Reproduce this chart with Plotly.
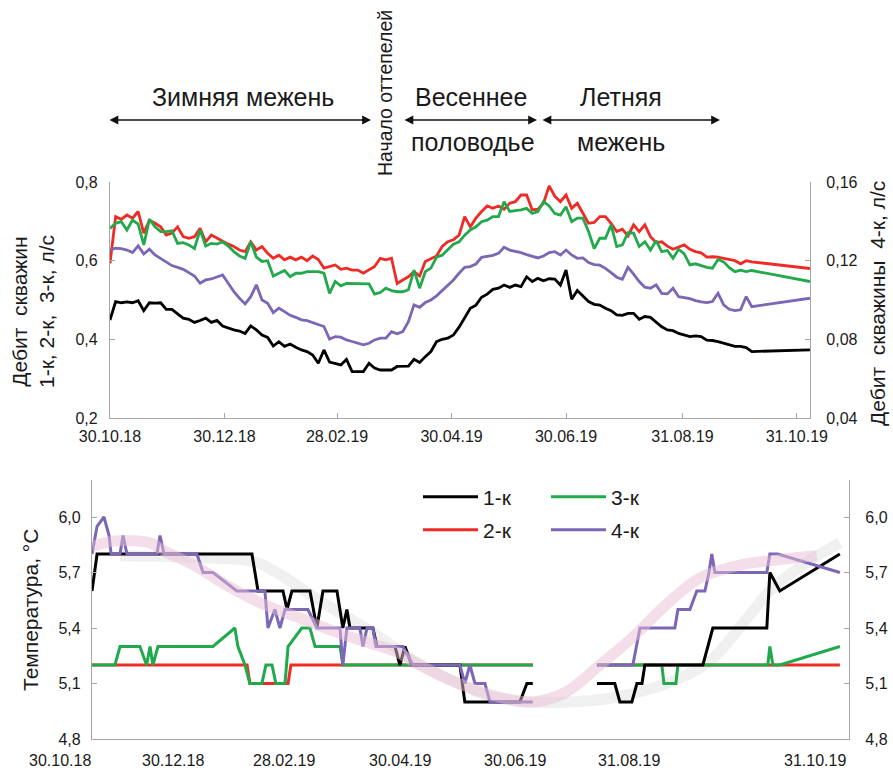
import plotly.graph_objects as go
import pandas as pd

# ---------------- DATA ----------------
START = "2018-10-30"
END_DAY = 373

# Top chart: common day grid (days after 30.10.18)
top_days = list(range(0, 154, 3)) + list(range(156, 343, 3)) + [373]

q_2k = [0.593, 0.712, 0.705, 0.716, 0.708, 0.725, 0.670, 0.703, 0.695, 0.686,
        0.665, 0.670, 0.686, 0.661, 0.657, 0.661, 0.682, 0.648, 0.665, 0.657,
        0.648, 0.642, 0.636, 0.627, 0.623, 0.648, 0.627, 0.636, 0.619, 0.606,
        0.614, 0.602, 0.609, 0.602, 0.609, 0.600, 0.612, 0.603, 0.581, 0.585,
        0.589, 0.578, 0.581, 0.576, 0.576, 0.568, 0.576, 0.585, 0.606, 0.602,
        0.606, 0.542,
        0.551, 0.559, 0.572, 0.561, 0.598, 0.606, 0.612, 0.636, 0.648, 0.653,
        0.665, 0.712, 0.686, 0.708, 0.725, 0.739, 0.733, 0.739, 0.731, 0.746,
        0.750, 0.767, 0.767, 0.729, 0.731, 0.746, 0.790, 0.764, 0.750, 0.767,
        0.733, 0.746, 0.720, 0.695, 0.697, 0.712, 0.712, 0.695, 0.674, 0.680,
        0.663, 0.691, 0.674, 0.691, 0.661, 0.646, 0.648, 0.637, 0.629, 0.634,
        0.640, 0.629, 0.623, 0.620, 0.609, 0.610, 0.609, 0.606, 0.603, 0.600,
        0.592, 0.600, 0.597,
        0.580]

q_3k = [0.682, 0.695, 0.699, 0.678, 0.703, 0.693, 0.640, 0.705, 0.686, 0.674,
        0.674, 0.676, 0.644, 0.646, 0.640, 0.631, 0.678, 0.637, 0.644, 0.642,
        0.648, 0.637, 0.623, 0.612, 0.606, 0.648, 0.609, 0.598, 0.600, 0.561,
        0.568, 0.575, 0.559, 0.568, 0.568, 0.572, 0.572, 0.572, 0.568, 0.517,
        0.547, 0.536, 0.542, 0.542, 0.541, 0.542, 0.541, 0.515, 0.519, 0.530,
        0.524, 0.521,
        0.521, 0.526, 0.576, 0.530, 0.572, 0.581, 0.609, 0.614, 0.629, 0.642,
        0.648, 0.665, 0.678, 0.686, 0.699, 0.703, 0.712, 0.712, 0.750, 0.725,
        0.727, 0.729, 0.733, 0.720, 0.725, 0.750, 0.739, 0.720, 0.716, 0.737,
        0.699, 0.708, 0.708, 0.674, 0.631, 0.657, 0.657, 0.691, 0.636, 0.640,
        0.671, 0.670, 0.636, 0.648, 0.627, 0.651, 0.623, 0.626, 0.606, 0.629,
        0.617, 0.589, 0.592, 0.588, 0.583, 0.581, 0.603, 0.597, 0.582, 0.572,
        0.576, 0.572, 0.575,
        0.547]

q_4k = [0.1254, 0.1263, 0.1261, 0.1254, 0.1241, 0.1275, 0.1234, 0.1258, 0.1229, 0.1212,
        0.1192, 0.1175, 0.1166, 0.1156, 0.1139, 0.1122, 0.1085, 0.1102, 0.1107, 0.1116,
        0.1127, 0.1085, 0.1043, 0.1009, 0.0980, 0.1017, 0.1077, 0.1000, 0.0983, 0.0936,
        0.0958, 0.0941, 0.0922, 0.0912, 0.0899, 0.0895, 0.0885, 0.0873, 0.0865, 0.0801,
        0.0814, 0.0811, 0.0797, 0.0789, 0.0780, 0.0772, 0.0780, 0.0797, 0.0806, 0.0806,
        0.0839, 0.0828,
        0.0839, 0.0890, 0.0975, 0.0963, 0.0987, 0.1000, 0.1021, 0.1048, 0.1071, 0.1102,
        0.1136, 0.1166, 0.1170, 0.1183, 0.1217, 0.1221, 0.1227, 0.1237, 0.1268, 0.1254,
        0.1248, 0.1241, 0.1231, 0.1224, 0.1214, 0.1224, 0.1241, 0.1246, 0.1229, 0.1254,
        0.1229, 0.1212, 0.1214, 0.1190, 0.1180, 0.1177, 0.1161, 0.1139, 0.1116, 0.1105,
        0.1166, 0.1132, 0.1094, 0.1065, 0.1060, 0.1077, 0.1034, 0.1031, 0.1060, 0.1017,
        0.1011, 0.1007, 0.0997, 0.0990, 0.0987, 0.0992, 0.1034, 0.0975, 0.0953, 0.0946,
        0.0950, 0.1017, 0.0966,
        0.1009]

q_1k = [0.449, 0.496, 0.493, 0.495, 0.493, 0.498, 0.473, 0.493, 0.492, 0.493,
        0.476, 0.476, 0.465, 0.454, 0.451, 0.443, 0.448, 0.454, 0.443, 0.448,
        0.434, 0.428, 0.424, 0.421, 0.415, 0.434, 0.424, 0.411, 0.405, 0.383,
        0.394, 0.382, 0.388, 0.380, 0.373, 0.369, 0.360, 0.339, 0.373, 0.342,
        0.339, 0.335, 0.349, 0.318, 0.318, 0.318, 0.339, 0.327, 0.322, 0.322,
        0.322, 0.331,
        0.331, 0.332, 0.349, 0.341, 0.356, 0.369, 0.394, 0.400, 0.403, 0.411,
        0.431, 0.454, 0.479, 0.487, 0.507, 0.515, 0.527, 0.530, 0.538, 0.532,
        0.538, 0.534, 0.559, 0.547, 0.555, 0.549, 0.554, 0.553, 0.538, 0.576,
        0.502, 0.524, 0.509, 0.496, 0.489, 0.487, 0.479, 0.473, 0.462, 0.461,
        0.466, 0.466, 0.451, 0.458, 0.456, 0.443, 0.432, 0.424, 0.422, 0.415,
        0.410, 0.407, 0.409, 0.407, 0.398, 0.397, 0.394, 0.390, 0.386, 0.382,
        0.382, 0.379, 0.369,
        0.373]

top_tick_dates = ["2018-10-30", "2018-12-30", "2019-02-28", "2019-04-30",
                  "2019-06-30", "2019-08-31", "2019-10-31"]
tick_labels = ["30.10.18", "30.12.18", "28.02.19", "30.04.19",
               "30.06.19", "31.08.19", "31.10.19"]

# Bottom chart: temperature (days after 30.10.18), None = no data
t1_days = [0, 2.5, 78.8, 81.8, 94.1, 96.1, 98.5, 107.4, 110.8, 113.8, 120.7, 123.6,
           125.6, 127.1, 138.4, 140.4, 149.3, 151.7, 154.2, 157.6, 181.3, 183.7,
           210.8, 214.3, 217.2, 233, 248.8, 257.6, 260.1, 266, 268.5, 271, 272.4,
           301, 305.9, 332.5, 334, 338.9, 368.5]
t1_vals = [5.6, 5.8, 5.8, 5.6, 5.6, 5.5, 5.6, 5.6, 5.4, 5.6, 5.6, 5.4,
           5.5, 5.4, 5.4, 5.3, 5.3, 5.2, 5.3, 5.2, 5.2, 5.0,
           5.0, 5.1, 5.1, None, 5.1, 5.1, 5.0, 5.0, 5.1, 5.1, 5.2,
           5.2, 5.4, 5.4, 5.7, 5.6, 5.8]

t2_days = [0, 76.4, 77.8, 96.6, 98, 217.2, 233, 248.8, 368.5]
t2_vals = [5.2, 5.2, 5.1, 5.1, 5.2, 5.2, None, 5.2, 5.2]

t3_days = [0, 11.3, 13.8, 23.6, 26.9, 28.6, 30, 32.5, 59.6, 70.4, 71.9, 75.4, 77.8,
           83.7, 85.7, 88.7, 90.6, 95.1, 96.6, 103.4, 107.4, 109.9, 122.2, 123.6,
           217.2, 233, 248.8, 280.8, 281.8, 287.7, 288.7, 333, 334, 335.5, 338.9, 368.5]
t3_vals = [5.2, 5.2, 5.3, 5.3, 5.2, 5.3, 5.2, 5.3, 5.3, 5.4, 5.3, 5.2, 5.1,
           5.1, 5.2, 5.2, 5.1, 5.1, 5.3, 5.4, 5.4, 5.3, 5.3, 5.2,
           5.2, None, 5.2, 5.2, 5.1, 5.1, 5.2, 5.2, 5.3, 5.2, 5.2, 5.3]

t4_days = [0, 2.5, 5.9, 8.4, 9.4, 13.8, 15.3, 17.2, 32, 33.5, 35.5, 51.7, 54.7, 59.6,
           71.4, 85.2, 86.7, 90.1, 92.6, 95.1, 106.4, 110.8, 122.2, 123.6, 125.6,
           132, 133.5, 135.5, 138.4, 139.9, 153.2, 158.1, 181.3, 183.7, 186.2,
           188.7, 193.6, 196.1, 217.2, 233, 248.8, 266.5, 270, 287.2, 288.7, 294.6,
           298, 302, 304, 305.4, 306.9, 332.5, 334, 337.9, 368.5]
t4_vals = [5.8, 5.95, 6.0, 5.9, 5.8, 5.8, 5.9, 5.8, 5.8, 5.9, 5.8, 5.8, 5.7, 5.7,
           5.6, 5.6, 5.4, 5.5, 5.4, 5.5, 5.5, 5.4, 5.4, 5.2, 5.4,
           5.4, 5.3, 5.4, 5.4, 5.3, 5.3, 5.2, 5.2, 5.1, 5.2,
           5.1, 5.1, 5.0, 5.0, None, 5.2, 5.2, 5.4, 5.4, 5.5, 5.5,
           5.6, 5.6, 5.7, 5.8, 5.7, 5.7, 5.8, 5.8, 5.7]

# smoothed trend bands
trend4_days = [0, 11.3, 28.6, 35, 51.7, 68, 84.2, 101, 117.2, 133.5, 150.2, 158.1,
               176.4, 196.1, 215.8, 233, 250.2, 266.5, 283.3, 299.5, 319.2, 339, 357.1]
trend4_vals = [5.84, 5.87, 5.86, 5.82, 5.73, 5.62, 5.53, 5.46, 5.39, 5.33, 5.27, 5.22,
               5.12, 5.04, 5.0, 5.05, 5.2, 5.35, 5.53, 5.67, 5.74, 5.77, 5.79]
trend1_days = [13.8, 53.2, 79.3, 92.6, 108.9, 125.6, 141.9, 159.1, 176.4, 196.1, 215.8,
               235.5, 255.2, 274.9, 289.7, 304.4, 324.1, 334, 348.8, 368.5]
trend1_vals = [5.79, 5.78, 5.76, 5.69, 5.57, 5.46, 5.35, 5.22, 5.12, 5.03, 5.0,
               5.0, 5.02, 5.07, 5.13, 5.22, 5.47, 5.6, 5.73, 5.86]

# ---------------- HELPERS ----------------
W, H = 893, 772
FONT = "Liberation Sans, Arial, sans-serif"
TXT = "#1a1a1a"
AXC = "#a6a6a6"
C1, C2, C3, C4 = "#000000", "#ee2b24", "#22a94c", "#7b67b6"

start = pd.Timestamp(START)


def to_dates(days):
    return [start + pd.Timedelta(days=d) for d in days]


def px_x(p):
    return p / W


def px_y(p):
    return 1 - p / H


fig = go.Figure()

# ---------------- TOP CHART ----------------
xd = to_dates(top_days)
for vals, col, yax in [(q_2k, C2, "y"), (q_3k, C3, "y"), (q_4k, C4, "y2"), (q_1k, C1, "y")]:
    fig.add_trace(go.Scatter(x=xd, y=vals, mode="lines", xaxis="x", yaxis=yax,
                             line=dict(color=col, width=2.8), showlegend=False,
                             hoverinfo="skip"))

# ---------------- BOTTOM CHART ----------------
fig.add_trace(go.Scatter(x=to_dates(trend1_days), y=trend1_vals, mode="lines",
                         xaxis="x2", yaxis="y3", line=dict(color="rgba(222,222,222,0.45)",
                                                            width=11, shape="spline"),
                         showlegend=False, hoverinfo="skip"))
fig.add_trace(go.Scatter(x=to_dates(trend4_days), y=trend4_vals, mode="lines",
                         xaxis="x2", yaxis="y4", line=dict(color="rgba(232,190,214,0.5)",
                                                            width=11, shape="spline"),
                         showlegend=False, hoverinfo="skip"))

fig.add_trace(go.Scatter(x=to_dates(t2_days), y=t2_vals, mode="lines", name="2-к",
                         xaxis="x2", yaxis="y3", line=dict(color=C2, width=3),
                         legend="legend2", connectgaps=False))
fig.add_trace(go.Scatter(x=to_dates(t3_days), y=t3_vals, mode="lines", name="3-к",
                         xaxis="x2", yaxis="y3", line=dict(color=C3, width=3),
                         legend="legend", legendrank=2, connectgaps=False))
fig.add_trace(go.Scatter(x=to_dates(t1_days), y=t1_vals, mode="lines", name="1-к",
                         xaxis="x2", yaxis="y3", line=dict(color=C1, width=3),
                         legend="legend", legendrank=1, connectgaps=False))
fig.add_trace(go.Scatter(x=to_dates(t4_days), y=t4_vals, mode="lines", name="4-к",
                         xaxis="x2", yaxis="y3", line=dict(color=C4, width=3),
                         legend="legend2", connectgaps=False))

x_range = [start, start + pd.Timedelta(days=END_DAY)]

TICKFONT = dict(family=FONT, size=16, color=TXT)
axis_common = dict(showgrid=False, zeroline=False, showline=True, linecolor=AXC,
                   linewidth=1.2, ticks="inside", ticklen=5, tickcolor=AXC,
                   tickfont=TICKFONT, automargin=False)

legend_common = dict(orientation="h", bgcolor="rgba(0,0,0,0)", entrywidth=58,
                     entrywidthmode="pixels", itemwidth=55,
                     font=dict(family=FONT, size=21, color=TXT),
                     xanchor="left", yanchor="middle")

fig.update_layout(
    width=W, height=H, margin=dict(l=0, r=0, t=0, b=0, autoexpand=False),
    paper_bgcolor="white", plot_bgcolor="rgba(0,0,0,0)",
    separators=", ", font=dict(family=FONT, color=TXT),
    xaxis=dict(domain=[px_x(110), px_x(810)], anchor="y", type="date", range=x_range,
               tickvals=top_tick_dates, ticktext=tick_labels, ticklabelstandoff=4,
               **axis_common),
    yaxis=dict(domain=[px_y(418), px_y(182)], anchor="x", range=[0.2, 0.8],
               tickvals=[0.2, 0.4, 0.6, 0.8], tickformat=".1f", ticklabelstandoff=8,
               **axis_common),
    yaxis2=dict(overlaying="y", side="right", anchor="x", range=[0.04, 0.16],
                tickvals=[0.04, 0.08, 0.12, 0.16], tickformat=".2f",
                ticklabelstandoff=12, **axis_common),
    xaxis2=dict(domain=[px_x(92), px_x(849)], anchor="y3", type="date", range=x_range,
                showgrid=False, zeroline=False, showline=True, linecolor=AXC,
                linewidth=1.2, ticks="", showticklabels=False, automargin=False),
    yaxis3=dict(domain=[px_y(739), px_y(480)], anchor="x2", range=[4.8, 6.2],
                tickvals=[4.8, 5.1, 5.4, 5.7, 6.0], tickformat=".1f",
                ticklabelstandoff=7, **axis_common),
    yaxis4=dict(overlaying="y3", side="right", anchor="x2", range=[4.8, 6.2],
                tickvals=[4.8, 5.1, 5.4, 5.7, 6.0], tickformat=".1f",
                ticklabelstandoff=12, **axis_common),
    legend=dict(x=px_x(418), y=px_y(497), **legend_common),
    legend2=dict(x=px_x(418), y=px_y(530), **legend_common),
)

ann = []


def text(t, x, y, size, angle=0):
    ann.append(dict(text=t, x=px_x(x), y=px_y(y), xref="paper", yref="paper",
                    showarrow=False, textangle=angle, xanchor="center", yanchor="middle",
                    font=dict(family=FONT, size=size, color=TXT)))


def darrow(x0, x1, y):
    ann.append(dict(text="", x=px_x(x1), y=px_y(y), xref="paper", yref="paper",
                    ax=-(x1 - x0), ay=0, axref="pixel", ayref="pixel", showarrow=True,
                    arrowside="end+start", arrowhead=2, startarrowhead=2,
                    arrowsize=1.1, startarrowsize=1.1, arrowwidth=1.6, arrowcolor="#111"))


text("Зимняя межень", 243, 97, 25)
darrow(108, 371, 120)
text("Весеннее", 471, 97, 25)
darrow(403, 537, 120)
text("половодье", 473, 142, 25)
text("Летняя", 621, 97, 25)
darrow(541, 720, 120)
text("межень", 621, 142, 25)
text("Начало оттепелей", 385, 93, 19.5, -90)

text("Дебит\u00a0\u00a0скважин<br>1-к, 2-к,\u00a0\u00a03-к, л/с", 33, 312, 21, -90)
text("Дебит\u00a0\u00a0скважины\u00a0\u00a04-к, л/с", 877, 304, 21, -90)
text("Температура, °C", 30, 610, 21, -90)

# bottom chart date labels (placed as in the original figure)
bottom_label_px = [60, 173, 284, 400, 515, 629, 815]
for lab, xp in zip(tick_labels, bottom_label_px):
    text(lab, xp, 760, 16)

fig.update_layout(annotations=ann)

# the page body has a default margin; remove it so the figure fills the window
fig.write_html("out.html",
               config={"displayModeBar": False},
               post_script="document.body.style.margin='0';"
                           "document.body.style.overflow='hidden';")
